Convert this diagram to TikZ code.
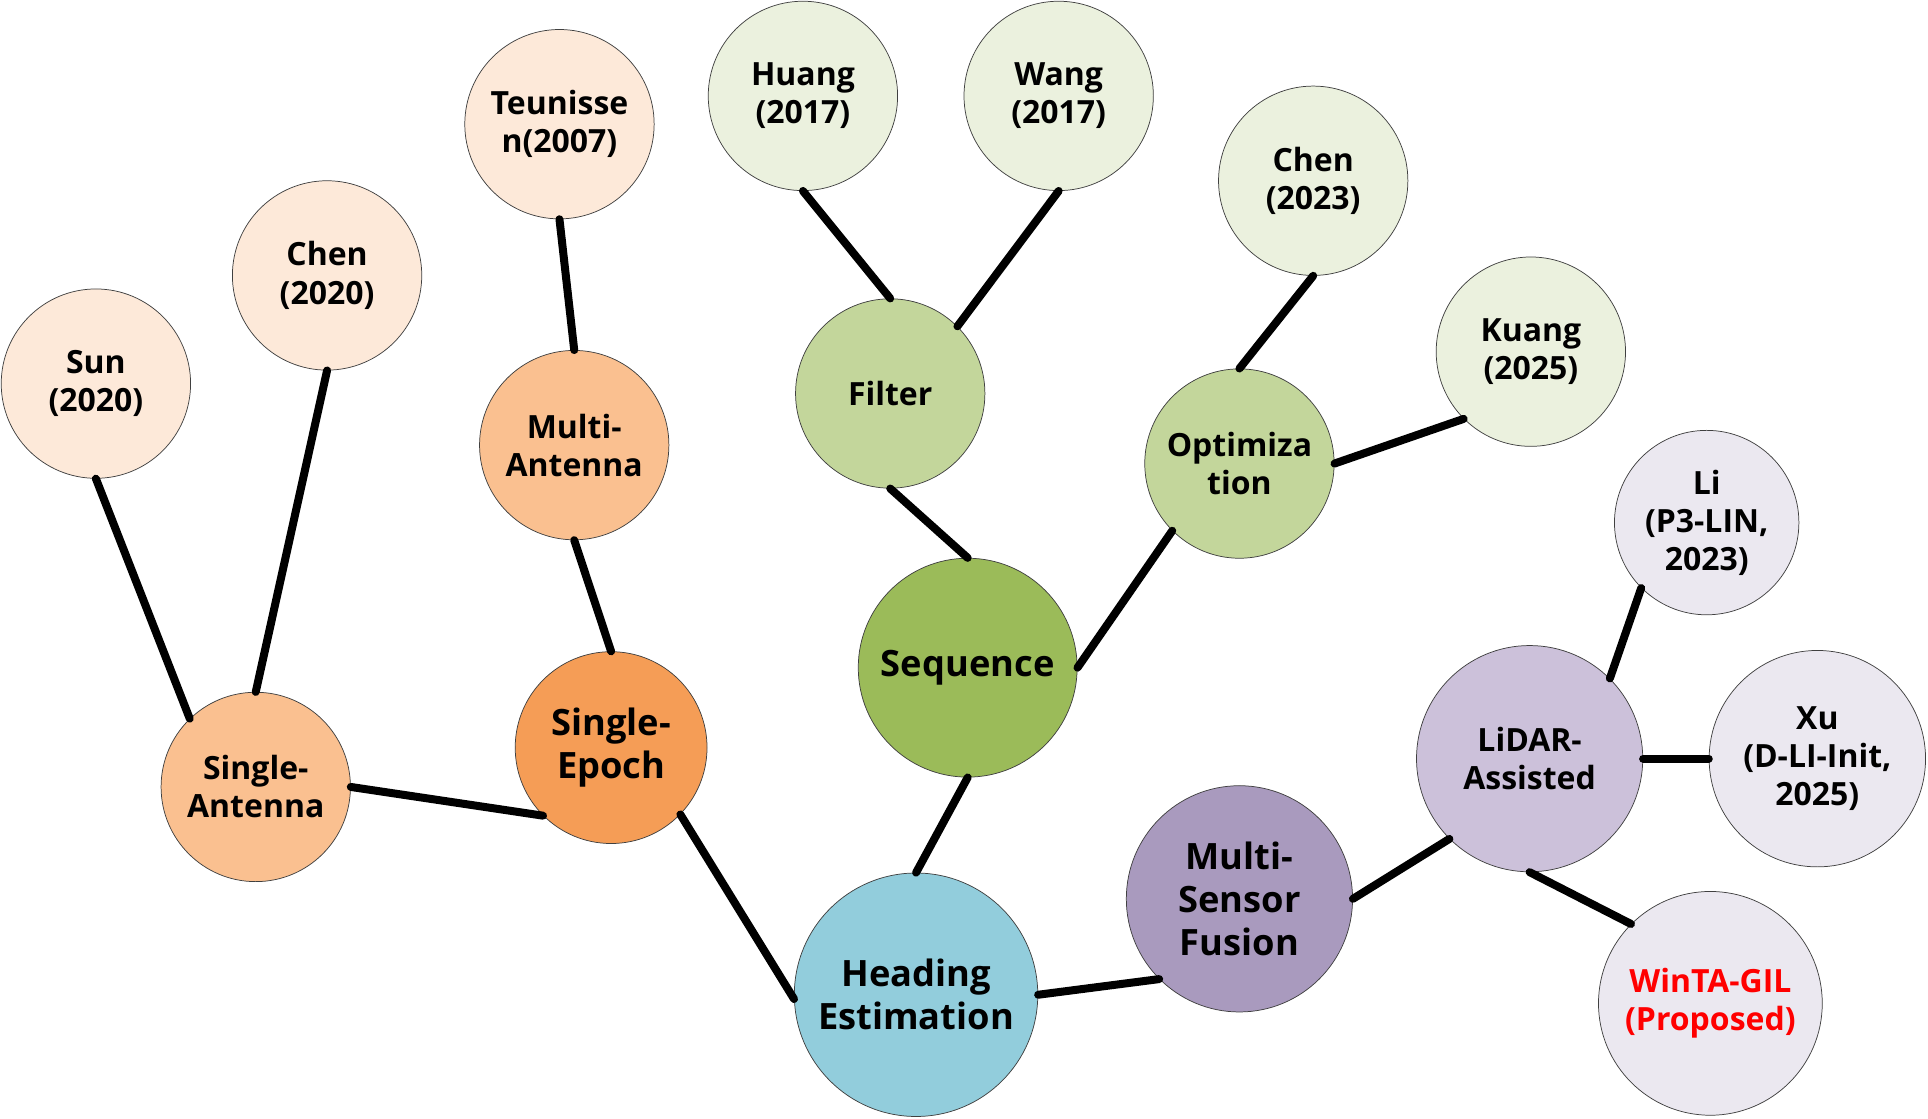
\documentclass[tikz,border=0pt]{standalone}
\usepackage{fontspec}
\setmainfont{Open Sans}
\definecolor{peachL}{HTML}{FDE9D9}
\definecolor{peachM}{HTML}{FAC090}
\definecolor{orangeD}{HTML}{F59D56}
\definecolor{aquaM}{HTML}{92CDDC}
\definecolor{greenD}{HTML}{9BBB59}
\definecolor{greenM}{HTML}{C3D69B}
\definecolor{greenL}{HTML}{EBF1DE}
\definecolor{purpD}{HTML}{A99ABE}
\definecolor{purpM}{HTML}{CCC1DA}
\definecolor{purpL}{HTML}{EBE8F0}
\tikzset{
  bub/.style={circle, draw=black!75, line width=0.6pt, inner sep=0pt, align=center,
    font=\bfseries\fontsize{26}{31}\selectfont},
  big/.style={font=\bfseries\fontsize{29.5}{35}\selectfont},
  link/.style={line width=6.5pt, line cap=round, black}
}
\begin{document}
\begin{tikzpicture}[x=1pt,y=-1pt]
\useasboundingbox (0,0) rectangle (1568,910);
% nodes
\node[bub, fill=peachL, minimum size=154] (sun) at (78,312) {Sun\\(2020)};
\node[bub, fill=peachL, minimum size=154] (chenA) at (266,224) {Chen\\(2020)};
\node[bub, fill=peachL, minimum size=154] (teun) at (455,101) {Teunisse\\n(2007)};
\node[bub, fill=greenL, minimum size=154] (huang) at (653,78) {Huang\\(2017)};
\node[bub, fill=greenL, minimum size=154] (wang) at (861,78) {Wang\\(2017)};
\node[bub, fill=greenL, minimum size=154] (chenB) at (1068,147) {Chen\\(2023)};
\node[bub, fill=greenL, minimum size=154] (kuang) at (1245,286) {Kuang\\(2025)};
\node[bub, fill=purpL, minimum size=150] (li) at (1388,425) {Li\\(P3-LIN,\\2023)};
\node[bub, fill=purpL, minimum size=176] (xu) at (1478,617) {Xu\\(D-LI-Init,\\2025)};
\node[bub, fill=purpL, minimum size=182, text=red] (winta) at (1391,816) {WinTA-GIL\\(Proposed)};
\node[bub, fill=purpM, minimum size=184] (lidar) at (1244,617) {LiDAR-\\Assisted};
\node[bub, big, fill=purpD, minimum size=184] (msf) at (1008,731) {Multi-\\Sensor\\Fusion};
\node[bub, big, fill=aquaM, minimum size=198] (head) at (745,809) {Heading\\Estimation};
\node[bub, big, fill=greenD, minimum size=178] (seq) at (787,543) {Sequence};
\node[bub, fill=greenM, minimum size=154] (filter) at (724,320) {Filter};
\node[bub, fill=greenM, minimum size=154] (opt) at (1008,377) {Optimiza\\tion};
\node[bub, big, fill=orangeD, minimum size=156] (sepoch) at (497,608) {Single-\\Epoch};
\node[bub, fill=peachM, minimum size=154] (mant) at (467,362) {Multi-\\Antenna};
\node[bub, fill=peachM, minimum size=154] (sant) at (208,640) {Single-\\Antenna};
% connectors
\draw[link] (sun.south) -- (sant.134);
\draw[link] (chenA.south) -- (sant.north);
\draw[link] (sant.east) -- (sepoch.225);
\draw[link] (teun.south) -- (mant.north);
\draw[link] (mant.south) -- (sepoch.north);
\draw[link] (sepoch.-44) -- (head.182);
\draw[link] (head.north) -- (seq.south);
\draw[link] (seq.north) -- (filter.south);
\draw[link] (filter.north) -- (huang.south);
\draw[link] (filter.45) -- (wang.south);
\draw[link] (seq.east) -- (opt.225);
\draw[link] (opt.north) -- (chenB.south);
\draw[link] (opt.east) -- (kuang.225);
\draw[link] (head.east) -- (msf.225);
\draw[link] (msf.east) -- (lidar.225);
\draw[link] (lidar.45) -- (li.225);
\draw[link] (lidar.east) -- (xu.west);
\draw[link] (lidar.south) -- (winta.135);
\end{tikzpicture}
\end{document}
